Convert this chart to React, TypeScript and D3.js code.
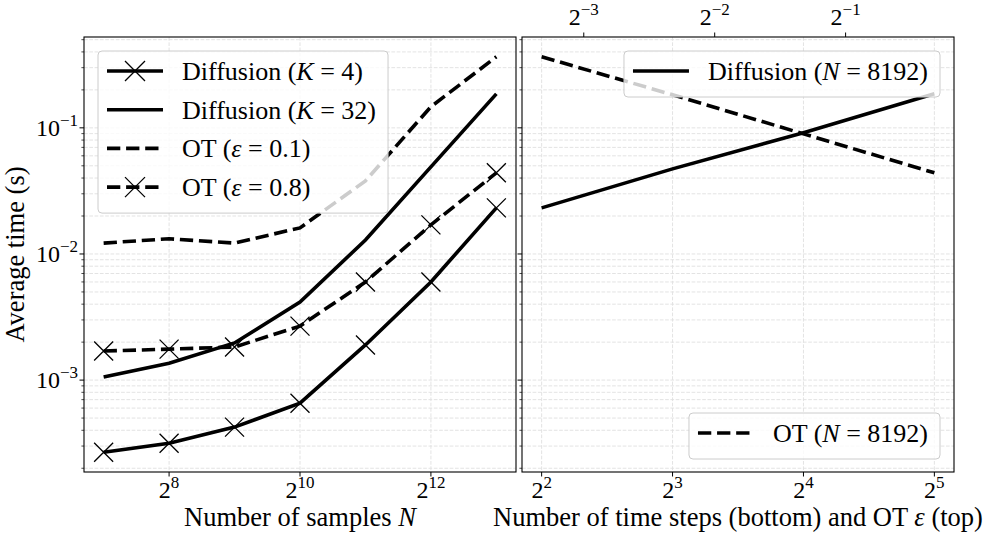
import * as d3 from "d3";
import React, { useRef, useEffect } from "react";

// left panel: time vs number of samples
const samplesN = [128, 256, 512, 1024, 2048, 4096, 8192];
const diffusionK4 = [2.68e-4, 3.16e-4, 4.24e-4, 6.56e-4, 1.9e-3, 6.0e-3, 0.0232];
const diffusionK32 = [1.06e-3, 1.36e-3, 1.97e-3, 4.16e-3, 0.0129, 0.049, 0.186];
const otEps01 = [0.0122, 0.0132, 0.0122, 0.0161, 0.038, 0.147, 0.366];
const otEps08 = [1.7e-3, 1.76e-3, 1.83e-3, 2.68e-3, 6.0e-3, 0.017, 0.044];

// right panel: N = 8192
const timeSteps = [4, 8, 16, 32];
const epsilons = [0.1, 0.2, 0.4, 0.8];
const diffusionN8192 = [0.0232, 0.0473, 0.0913, 0.186];
const otN8192 = [0.366, 0.183, 0.0896, 0.044];

// tick exponents
const leftTickExps = [8, 10, 12];
const bottomTickExps = [2, 3, 4, 5];
const topTickExps = [-3, -2, -1];
const yTickExps = [-3, -2, -1];

const W = 987;
const H = 538;
const top = 37;
const bottom = 472;
const leftPanel = [84, 516];
const rightPanel = [522, 954];

const FONT = "'Liberation Serif', 'Times New Roman', serif";
const GRID = "#e0e0e0";
const DASH = "13.3,5.8";
const LW = 3.6;

type Part = [string, boolean];

// matplotlib-like 5% margin in log space
function padded(values: number[], base: number): [number, number] {
  const lg = values.map((v) => Math.log(v) / Math.log(base));
  const lo = d3.min(lg)!;
  const hi = d3.max(lg)!;
  const pad = 0.05 * (hi - lo);
  return [Math.pow(base, lo - pad), Math.pow(base, hi + pad)];
}

function addParts(text: any, parts: Part[]) {
  parts.forEach(([s, it]) => {
    text.append("tspan").attr("font-style", it ? "italic" : "normal").text(s);
  });
  return text;
}

function powLabel(g: any, x: number, y: number, base: string, exp: string, anchor: string) {
  const t = g
    .append("text")
    .attr("x", x)
    .attr("y", y)
    .attr("text-anchor", anchor)
    .attr("font-family", FONT)
    .attr("font-size", 24)
    .attr("fill", "#000");
  t.append("tspan").text(base);
  t.append("tspan").attr("dy", -10).attr("font-size", 17).text(exp);
}

export default function App() {
  const ref = useRef<SVGSVGElement>(null);

  useEffect(() => {
    const svg = d3.select(ref.current);
    svg.selectAll("*").remove();

    svg.append("rect").attr("width", W).attr("height", H).attr("fill", "#fff");

    const xLeft = d3.scaleLog().base(2).domain(padded(samplesN, 2)).range(leftPanel);
    const xBottom = d3.scaleLog().base(2).domain(padded(timeSteps, 2)).range(rightPanel);
    const xTop = d3.scaleLog().base(2).domain(padded(epsilons, 2)).range(rightPanel);
    const allY = [...diffusionK4, ...diffusionK32, ...otEps01, ...otEps08, ...diffusionN8192, ...otN8192];
    const y = d3.scaleLog().domain(padded(allY, 10)).range([bottom, top]);

    const minorY = y.ticks().filter((v) => v >= y.domain()[0] && v <= y.domain()[1]);
    const isMajor = (v: number) => Math.abs(Math.log10(v) - Math.round(Math.log10(v))) < 1e-6;

    // grid
    const grid = svg.append("g").attr("stroke", GRID).attr("stroke-width", 0.9).attr("stroke-dasharray", "3.7,1.6");
    [leftPanel, rightPanel].forEach((p) => {
      grid
        .selectAll(null)
        .data(minorY)
        .join("line")
        .attr("x1", p[0])
        .attr("x2", p[1])
        .attr("y1", (d) => y(d))
        .attr("y2", (d) => y(d));
    });
    grid
      .selectAll(null)
      .data(leftTickExps)
      .join("line")
      .attr("x1", (d) => xLeft(2 ** d))
      .attr("x2", (d) => xLeft(2 ** d))
      .attr("y1", top)
      .attr("y2", bottom);
    grid
      .selectAll(null)
      .data(bottomTickExps)
      .join("line")
      .attr("x1", (d) => xBottom(2 ** d))
      .attr("x2", (d) => xBottom(2 ** d))
      .attr("y1", top)
      .attr("y2", bottom);

    // series
    const leftSeries = [
      { values: diffusionK4, dashed: false, marker: true, label: [["Diffusion (", false], ["K", true], [" = 4)", false]] as Part[] },
      { values: diffusionK32, dashed: false, marker: false, label: [["Diffusion (", false], ["K", true], [" = 32)", false]] as Part[] },
      { values: otEps01, dashed: true, marker: false, label: [["OT (", false], ["ε", true], [" = 0.1)", false]] as Part[] },
      { values: otEps08, dashed: true, marker: true, label: [["OT (", false], ["ε", true], [" = 0.8)", false]] as Part[] },
    ];

    const line = d3.line<[number, number]>().x((d) => d[0]).y((d) => d[1]);
    const cross = "M-9.5,-9.5L9.5,9.5M-9.5,9.5L9.5,-9.5";

    const drawSeries = (pts: [number, number][], dashed: boolean, marker: boolean) => {
      svg
        .append("path")
        .attr("d", line(pts))
        .attr("fill", "none")
        .attr("stroke", "#000")
        .attr("stroke-width", LW)
        .attr("stroke-dasharray", dashed ? DASH : null);
      if (marker) {
        svg
          .selectAll(null)
          .data(pts)
          .join("path")
          .attr("d", cross)
          .attr("transform", (d) => `translate(${d[0]},${d[1]})`)
          .attr("stroke", "#000")
          .attr("stroke-width", 1.3)
          .attr("fill", "none");
      }
    };

    leftSeries.forEach((s) => {
      drawSeries(samplesN.map((n, i) => [xLeft(n), y(s.values[i])]), s.dashed, s.marker);
    });
    drawSeries(timeSteps.map((t, i) => [xBottom(t), y(diffusionN8192[i])]), false, false);
    drawSeries(epsilons.map((e, i) => [xTop(e), y(otN8192[i])]), true, false);

    // frames + ticks
    const axes = svg.append("g").attr("stroke", "#000");
    [leftPanel, rightPanel].forEach((p) => {
      axes
        .append("rect")
        .attr("x", p[0])
        .attr("y", top)
        .attr("width", p[1] - p[0])
        .attr("height", bottom - top)
        .attr("fill", "none")
        .attr("stroke-width", 1.1);
      axes
        .selectAll(null)
        .data(minorY)
        .join("line")
        .attr("x1", p[0])
        .attr("x2", (d) => p[0] - (isMajor(d) ? 4.5 : 2.6))
        .attr("y1", (d) => y(d))
        .attr("y2", (d) => y(d))
        .attr("stroke-width", (d) => (isMajor(d) ? 1 : 0.7));
    });
    axes
      .selectAll(null)
      .data(leftTickExps)
      .join("line")
      .attr("x1", (d) => xLeft(2 ** d))
      .attr("x2", (d) => xLeft(2 ** d))
      .attr("y1", bottom)
      .attr("y2", bottom + 4.5);
    axes
      .selectAll(null)
      .data(bottomTickExps)
      .join("line")
      .attr("x1", (d) => xBottom(2 ** d))
      .attr("x2", (d) => xBottom(2 ** d))
      .attr("y1", bottom)
      .attr("y2", bottom + 4.5);
    axes
      .selectAll(null)
      .data(topTickExps)
      .join("line")
      .attr("x1", (d) => xTop(2 ** d))
      .attr("x2", (d) => xTop(2 ** d))
      .attr("y1", top)
      .attr("y2", top - 4.5);

    // tick labels
    const labels = svg.append("g");
    yTickExps.forEach((e) => powLabel(labels, 78, y(10 ** e) + 8, "10", `\u2212${-e}`, "end"));
    leftTickExps.forEach((e) => powLabel(labels, xLeft(2 ** e), 498, "2", `${e}`, "middle"));
    bottomTickExps.forEach((e) => powLabel(labels, xBottom(2 ** e), 498, "2", `${e}`, "middle"));
    topTickExps.forEach((e) => powLabel(labels, xTop(2 ** e), 25, "2", `\u2212${-e}`, "middle"));

    // axis labels
    const axisText = (x: number, yy: number, parts: Part[]) =>
      addParts(
        labels
          .append("text")
          .attr("x", x)
          .attr("y", yy)
          .attr("text-anchor", "middle")
          .attr("font-family", FONT)
          .attr("font-size", 26.5),
        parts
      );
    axisText((leftPanel[0] + leftPanel[1]) / 2, 526, [["Number of samples ", false], ["N", true]]);
    axisText((rightPanel[0] + rightPanel[1]) / 2, 526, [
      ["Number of time steps (bottom) and OT ", false],
      ["ε", true],
      [" (top)", false],
    ]);
    axisText(0, 0, [["Average time (s)", false]]).attr("transform", `translate(24,${(top + bottom) / 2}) rotate(-90)`);

    // legends
    const legend = (
      entries: { dashed: boolean; marker: boolean; label: Part[] }[],
      place: (w: number, h: number) => [number, number]
    ) => {
      const g = svg.append("g");
      const box = g.append("rect");
      const rows = entries.map((en) =>
        addParts(g.append("text").attr("font-family", FONT).attr("font-size", 26).attr("fill", "#000"), en.label)
      );
      const textW = d3.max(rows, (t) => (t.node() as SVGTextElement).getComputedTextLength())!;
      const w = 84 + textW + 12;
      const h = 8 + entries.length * 38.7 - 0.7;
      const [bx, by] = place(w, h);
      box
        .attr("x", bx)
        .attr("y", by)
        .attr("width", w)
        .attr("height", h)
        .attr("rx", 4)
        .attr("fill", "#fff")
        .attr("fill-opacity", 0.8)
        .attr("stroke", "#cccccc")
        .attr("stroke-width", 1);
      entries.forEach((en, i) => {
        const cy = by + 20 + i * 38.7;
        g.append("line")
          .attr("x1", bx + 9)
          .attr("x2", bx + 65)
          .attr("y1", cy)
          .attr("y2", cy)
          .attr("stroke", "#000")
          .attr("stroke-width", LW)
          .attr("stroke-dasharray", en.dashed ? DASH : null);
        if (en.marker) {
          g.append("path")
            .attr("d", "M-10,-10L10,10M-10,10L10,-10")
            .attr("transform", `translate(${bx + 37},${cy})`)
            .attr("stroke", "#000")
            .attr("stroke-width", 1.3);
        }
        rows[i].attr("x", bx + 84).attr("y", cy + 9);
      });
    };

    legend(leftSeries, () => [leftPanel[0] + 14, top + 14]);
    legend(
      [{ dashed: false, marker: false, label: [["Diffusion (", false], ["N", true], [" = 8192)", false]] }],
      (w) => [rightPanel[1] - 14 - w, top + 14]
    );
    legend(
      [{ dashed: true, marker: false, label: [["OT (", false], ["N", true], [" = 8192)", false]] }],
      (w, h) => [rightPanel[1] - 14 - w, bottom - 13 - h]
    );
  }, []);

  return (
    <svg
      ref={ref}
      width={W}
      height={H}
      style={{ position: "absolute", left: 0, top: 0, display: "block" }}
    ></svg>
  );
}
